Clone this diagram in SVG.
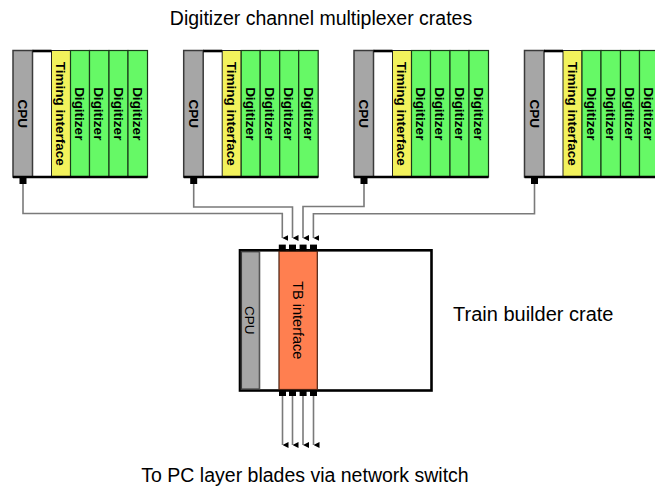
<svg xmlns="http://www.w3.org/2000/svg" width="655" height="488" viewBox="0 0 655 488">
<defs>
  <style>
    .cpu{fill:#a6a6a6;stroke:#3a3a3a;stroke-width:1.5}
    .slot{fill:#fff;stroke:none}
    .thick{stroke:#000;stroke-width:2.6;fill:none}
    .tim{fill:#f2f25c;stroke:#222;stroke-width:1}
    .dig{fill:#66f966;stroke:#1a3a1a;stroke-width:1.2}
    .vt{font-family:"Liberation Sans",Arial,sans-serif;font-size:13.5px;font-weight:bold;fill:#000;text-anchor:middle}
    .vtr{font-family:"Liberation Sans",Arial,sans-serif;font-size:13.5px;fill:#000;text-anchor:middle}
    .lbl{font-family:"Liberation Sans",Arial,sans-serif;fill:#000}
    .wire{fill:none;stroke:#7a7a7a;stroke-width:1.6}
    .pin{fill:#000}
  </style>
  <marker id="ah" viewBox="0 0 6 6" refX="3" refY="6" markerWidth="6" markerHeight="6" markerUnits="userSpaceOnUse" orient="auto-start-reverse">
    <path d="M0,0 L6,0 L3,6 Z" fill="#000"/>
  </marker>
  <g id="crate">
    <rect class="slot" x="19.5" y="50.5" width="19" height="126.5"/>
    <rect class="tim" x="38.5" y="50.5" width="19" height="126.5"/>
    <rect class="dig" x="57.5" y="50.5" width="19" height="126.5"/>
    <rect class="dig" x="76.5" y="50.5" width="19.5" height="126.5"/>
    <rect class="dig" x="96" y="50.5" width="19" height="126.5"/>
    <rect class="dig" x="115" y="50.5" width="19.5" height="126.5"/>
    <rect class="cpu" x="0" y="50.5" width="19.5" height="126.5"/>
    <line class="thick" x1="19.5" y1="51" x2="38.5" y2="51"/>
    <line class="thick" x1="0" y1="177" x2="134.5" y2="177"/>
    <rect class="pin" x="6.5" y="177" width="7" height="7"/>
    <text class="vt" transform="translate(10,113.75) rotate(90)" dy="0.36em">CPU</text>
    <text class="vt" transform="translate(48,113.75) rotate(90)" dy="0.36em">Timing interface</text>
    <text class="vt" transform="translate(67,113.75) rotate(90)" dy="0.36em">Digitizer</text>
    <text class="vt" transform="translate(86.25,113.75) rotate(90)" dy="0.36em">Digitizer</text>
    <text class="vt" transform="translate(105.5,113.75) rotate(90)" dy="0.36em">Digitizer</text>
    <text class="vt" transform="translate(124.75,113.75) rotate(90)" dy="0.36em">Digitizer</text>
  </g>
</defs>

<text class="lbl" x="321" y="24.5" font-size="19.5" text-anchor="middle">Digitizer channel multiplexer crates</text>

<g id="crate1"><use href="#crate" x="13" y="0"/></g>
<g id="crate2"><use href="#crate" x="183.7" y="0"/></g>
<g id="crate3"><use href="#crate" x="354" y="0"/></g>
<g id="crate4"><use href="#crate" x="524.5" y="0"/></g>

<g id="tb-crate">
  <rect x="240" y="250.3" width="191.5" height="140.2" fill="#fff" stroke="#000" stroke-width="2.6"/>
  <rect class="cpu" x="241.3" y="251.6" width="18.2" height="137.6" stroke="none"/>
  <line x1="259.5" y1="251.6" x2="259.5" y2="389.2" stroke="#555" stroke-width="1"/>
  <rect x="279" y="251.3" width="38.3" height="138.2" fill="#ff7f50" stroke="#4a2010" stroke-width="1.2"/>
  <text class="vtr" transform="translate(250,320.3) rotate(90)" dy="0.36em">CPU</text>
  <text class="vtr" style="font-size:14.5px" transform="translate(298.2,320.3) rotate(90)" dy="0.36em">TB interface</text>
  <rect class="pin" x="278.8" y="244.6" width="7" height="6"/>
  <rect class="pin" x="289" y="244.6" width="7" height="6"/>
  <rect class="pin" x="299.6" y="244.6" width="7" height="6"/>
  <rect class="pin" x="310" y="244.6" width="7" height="6"/>
  <rect class="pin" x="279" y="390" width="7" height="6"/>
  <rect class="pin" x="289" y="390" width="7" height="6"/>
  <rect class="pin" x="299.6" y="390" width="7" height="6"/>
  <rect class="pin" x="310" y="390" width="7" height="6"/>
</g>

<text class="lbl" x="453" y="320.5" font-size="20">Train builder crate</text>

<g id="connectors">
  <path class="wire" d="M23,184 V213.5 H282.3 V238" marker-end="url(#ah)"/>
  <path class="wire" d="M193.7,184 V207 H292.5 V238" marker-end="url(#ah)"/>
  <path class="wire" d="M364,184 V206.5 H303 V238" marker-end="url(#ah)"/>
  <path class="wire" d="M534.5,184 V213.8 H313.4 V238" marker-end="url(#ah)"/>
  <path class="wire" d="M282.5,396 V445" marker-end="url(#ah)"/>
  <path class="wire" d="M292.5,396 V445" marker-end="url(#ah)"/>
  <path class="wire" d="M303,396 V445" marker-end="url(#ah)"/>
  <path class="wire" d="M313.5,396 V445" marker-end="url(#ah)"/>
</g>

<text class="lbl" x="305" y="482.3" font-size="19.5" text-anchor="middle">To PC layer blades via network switch</text>
</svg>
